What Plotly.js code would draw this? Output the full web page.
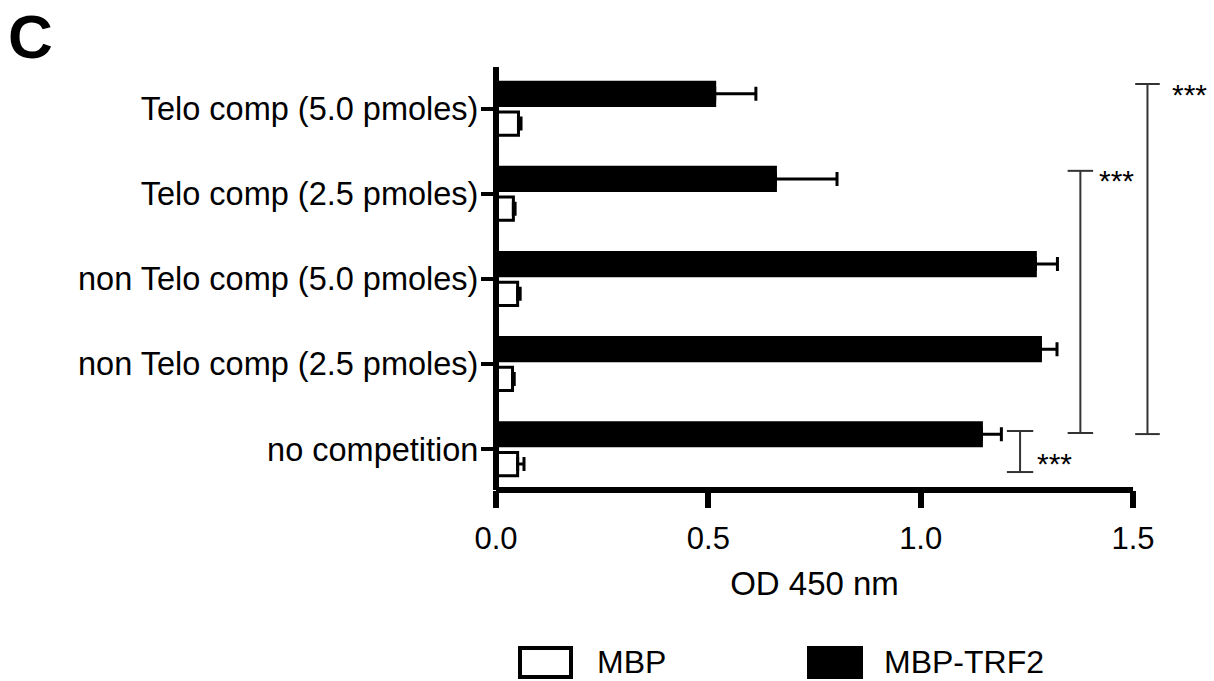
<!DOCTYPE html>
<html><head><meta charset="utf-8">
<script src="https://cdn.plot.ly/plotly-3.0.1.min.js"></script>
<style>html,body{margin:0;padding:0;background:#fff}</style>
</head><body><div id="chart" style="width:1214px;height:681px"></div>
<script>
// ---- data (categories listed top to bottom as shown) ----
const categories = [
  "Telo comp (5.0 pmoles)",
  "Telo comp (2.5 pmoles)",
  "non Telo comp (5.0 pmoles)",
  "non Telo comp (2.5 pmoles)",
  "no competition"
];
const seriesNames = ["MBP", "MBP-TRF2"];
const mbpValues = [0.053, 0.041, 0.051, 0.039, 0.051];
const mbpErrors = [0.006, 0.004, 0.006, 0.004, 0.015];
const trf2Values = [0.515, 0.658, 1.270, 1.282, 1.143];
const trf2Errors = [0.097, 0.145, 0.052, 0.039, 0.047];
const xTickValues = [0, 0.5, 1.0, 1.5];
const xTickLabels = ["0.0", "0.5", "1.0", "1.5"];
const sigLabel = "***";

// ---- significance brackets (annotation geometry) ----
const brackets = [
  {x: 1.234, half: 0.031, yTop: 0.213, yBot: -0.269, tx: 1.268, ty: -0.048},
  {x: 1.376, half: 0.030, yTop: 3.27,  yBot: 0.19,   tx: 1.414, ty: 3.27},
  {x: 1.534, half: 0.029, yTop: 4.29,  yBot: 0.177,  tx: 1.588, ty: 4.29}
];

const W = 1214, H = 681;
const M = {l: 445, r: 30, t: 67, b: 191};
const PW = W - M.l - M.r, PH = H - M.t - M.b;
const xRange = [-0.12, 1.62];
const px2x = px => (px - M.l) / PW;
const py2y = py => (M.t + PH - py) / PH;
const FONT = "Liberation Sans, Arial, Helvetica, sans-serif";

const zeros = mbpValues.map(() => 0);
const errStyle = {thickness: 3, width: 7, color: "#000"};

const traces = [
  {
    type: "bar", orientation: "h", name: seriesNames[0],
    y: categories, x: mbpValues,
    marker: {color: "#fff", line: {color: "#000", width: 3}},
    error_x: Object.assign({type: "data", symmetric: false, array: mbpErrors, arrayminus: zeros}, errStyle),
    showlegend: false, hoverinfo: "x+y"
  },
  {
    type: "bar", orientation: "h", name: seriesNames[1],
    y: categories, x: trf2Values,
    marker: {color: "#000", line: {color: "#000", width: 3}},
    error_x: Object.assign({type: "data", symmetric: false, array: trf2Errors, arrayminus: zeros}, errStyle),
    showlegend: false, hoverinfo: "x+y"
  }
];

const shapes = [];
// x axis line from 0 to 1.5
shapes.push({type: "line", xref: "x", yref: "paper", x0: xTickValues[0], x1: xTickValues[xTickValues.length - 1], y0: 0, y1: 0,
  line: {color: "#000", width: 6}});
brackets.forEach(b => {
  const ln = {color: "#333", width: 2};
  shapes.push({type: "line", xref: "x", yref: "y", x0: b.x, x1: b.x, y0: b.yTop, y1: b.yBot, line: ln});
  shapes.push({type: "line", xref: "x", yref: "y", x0: b.x - b.half, x1: b.x + b.half, y0: b.yTop, y1: b.yTop, line: ln});
  shapes.push({type: "line", xref: "x", yref: "y", x0: b.x - b.half, x1: b.x + b.half, y0: b.yBot, y1: b.yBot, line: ln});
});
// manual legend boxes
shapes.push({type: "rect", xref: "paper", yref: "paper", x0: px2x(520), x1: px2x(571), y0: py2y(648), y1: py2y(677),
  fillcolor: "#fff", line: {color: "#000", width: 4}});
shapes.push({type: "rect", xref: "paper", yref: "paper", x0: px2x(809), x1: px2x(861), y0: py2y(648), y1: py2y(677),
  fillcolor: "#000", line: {color: "#000", width: 4}});

const annotations = [];
brackets.forEach(b => {
  annotations.push({xref: "x", yref: "y", x: b.tx, y: b.ty, text: sigLabel, showarrow: false,
    xanchor: "left", yanchor: "middle", yshift: -10, font: {size: 30, color: "#000", family: FONT}});
});
annotations.push({xref: "paper", yref: "paper", x: px2x(595), y: py2y(662), text: seriesNames[0], showarrow: false,
  xanchor: "left", yanchor: "middle", font: {size: 32, color: "#000", family: FONT}});
annotations.push({xref: "paper", yref: "paper", x: px2x(882), y: py2y(662), text: seriesNames[1], showarrow: false,
  xanchor: "left", yanchor: "middle", font: {size: 32, color: "#000", family: FONT}});
annotations.push({xref: "paper", yref: "paper", x: px2x(6), y: py2y(0), text: "<b>C</b>", showarrow: false,
  xanchor: "left", yanchor: "top", font: {size: 62, color: "#000", family: FONT}});

const layout = {
  width: W, height: H,
  margin: M,
  paper_bgcolor: "#fff", plot_bgcolor: "#fff",
  font: {family: FONT, color: "#000"},
  barmode: "group", bargap: 0.3, bargroupgap: 0.22,
  showlegend: false,
  xaxis: {
    range: xRange, fixedrange: true,
    tickmode: "array", tickvals: xTickValues, ticktext: xTickLabels,
    ticks: "outside", ticklen: 17, tickwidth: 6, tickcolor: "#000",
    ticklabelstandoff: 4,
    showline: false, showgrid: false, zeroline: false,
    tickfont: {size: 31, color: "#000"},
    title: {text: "OD 450 nm", font: {size: 33, color: "#000"}, standoff: 16}
  },
  yaxis: {
    type: "category", categoryorder: "array", categoryarray: categories.slice().reverse(),
    range: [-0.48, 4.49], fixedrange: true,
    anchor: "free", position: (0 - xRange[0]) / (xRange[1] - xRange[0]),
    showline: true, linewidth: 6, linecolor: "#000",
    ticks: "outside", ticklen: 12, tickwidth: 4, tickcolor: "#000",
    ticklabelstandoff: -4,
    showgrid: false, zeroline: false,
    tickfont: {size: 32.5, color: "#000"}
  },
  shapes: shapes,
  annotations: annotations
};

Plotly.newPlot("chart", traces, layout, {displayModeBar: false, staticPlot: true});
</script></body></html>
